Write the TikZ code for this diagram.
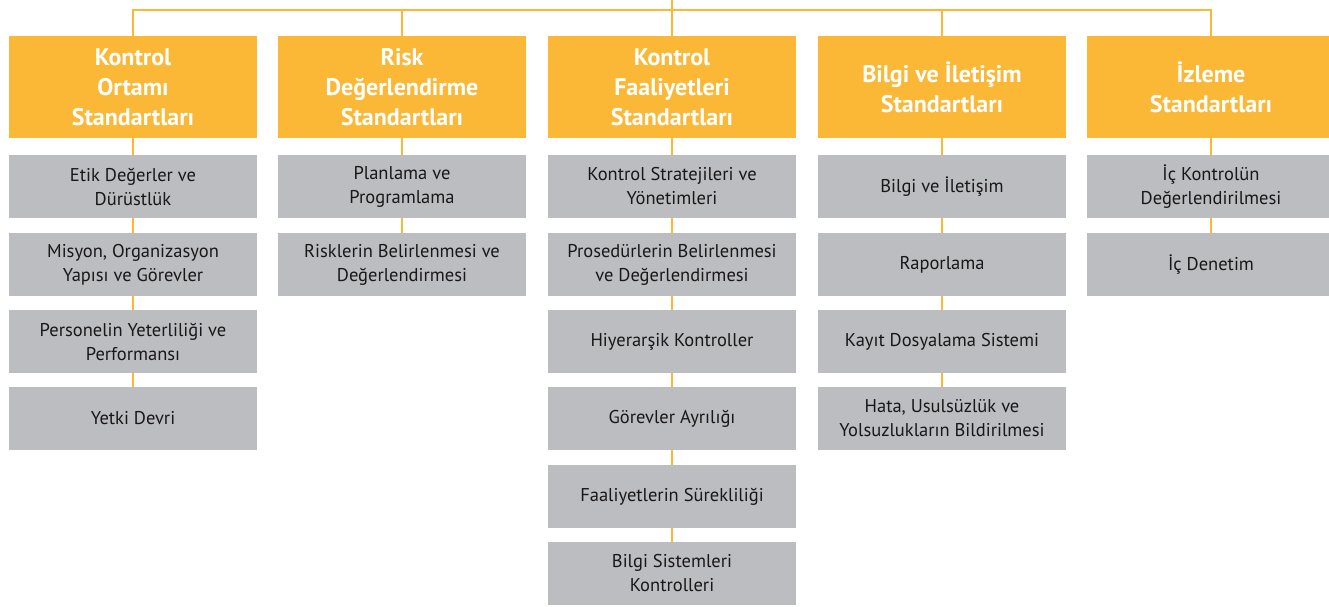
\documentclass[tikz,border=0pt]{standalone}
\usepackage{fontspec}
\setmainfont{PT Sans}
\definecolor{headyellow}{HTML}{FBB836}
\definecolor{boxgray}{HTML}{BCBDC0}
\definecolor{textdark}{HTML}{1A1718}
\tikzset{
  header/.style={fill=headyellow, minimum width=248pt, minimum height=102pt,
    inner sep=0pt, align=center, text=white,
    font=\fontsize{24}{30}\selectfont\bfseries},
  item/.style={fill=boxgray, minimum width=248pt, minimum height=63pt,
    inner sep=0pt, align=center, text=textdark,
    font=\fontsize{18.5}{24}\selectfont},
  link/.style={draw=headyellow, line width=2pt}
}
\begin{document}
\begin{tikzpicture}[x=1pt,y=-1pt]
\useasboundingbox (0,0) rectangle (1329,606);
% column centres
\def\ca{133}\def\cb{402}\def\cc{672}\def\cd{942}\def\ce{1211}
% headers
\node[header] (h1) at (\ca,87) {Kontrol\\Ortamı\\Standartları};
\node[header] (h2) at (\cb,87) {Risk\\Değerlendirme\\Standartları};
\node[header] (h3) at (\cc,87) {Kontrol\\Faaliyetleri\\Standartları};
\node[header] (h4) at (\cd,87) {Bilgi ve İletişim\\Standartları};
\node[header] (h5) at (\ce,87) {İzleme\\Standartları};
% column 1
\node[item] (a1) at (\ca,186.5) {Etik Değerler ve\\Dürüstlük};
\node[item] (a2) at (\ca,264.5) {Misyon, Organizasyon\\Yapısı ve Görevler};
\node[item] (a3) at (\ca,341.5) {Personelin Yeterliliği ve\\Performansı};
\node[item] (a4) at (\ca,418.5) {Yetki Devri};
% column 2
\node[item] (b1) at (\cb,186.5) {Planlama ve\\Programlama};
\node[item] (b2) at (\cb,264.5) {Risklerin Belirlenmesi ve\\Değerlendirmesi};
% column 3
\node[item] (c1) at (\cc,186.5) {Kontrol Stratejileri ve\\Yönetimleri};
\node[item] (c2) at (\cc,264.5) {Prosedürlerin Belirlenmesi\\ve Değerlendirmesi};
\node[item] (c3) at (\cc,341.5) {Hiyerarşik Kontroller};
\node[item] (c4) at (\cc,418.5) {Görevler Ayrılığı};
\node[item] (c5) at (\cc,496.5) {Faaliyetlerin Sürekliliği};
\node[item] (c6) at (\cc,573.5) {Bilgi Sistemleri\\Kontrolleri};
% column 4
\node[item] (d1) at (\cd,186.5) {Bilgi ve İletişim};
\node[item] (d2) at (\cd,264.5) {Raporlama};
\node[item] (d3) at (\cd,341.5) {Kayıt Dosyalama Sistemi};
\node[item] (d4) at (\cd,418.5) {Hata, Usulsüzlük ve\\Yolsuzlukların Bildirilmesi};
% column 5
\node[item] (e1) at (\ce,186.5) {İç Kontrolün\\Değerlendirilmesi};
\node[item] (e2) at (\ce,264.5) {İç Denetim};
% top bus
\coordinate (top) at (\cc,0);
\coordinate (bus) at (\cc,9.5);
\draw[link] (top) -- (bus);
\draw[link] (h1.north) -- (h1.north |- bus) -- (h5.north |- bus) -- (h5.north);
\foreach \h in {h2,h3,h4} \draw[link] (\h.north) -- (\h.north |- bus);
% column chains
\foreach \u/\v in {h1/a1,a1/a2,a2/a3,a3/a4,h2/b1,b1/b2,
  h3/c1,c1/c2,c2/c3,c3/c4,c4/c5,c5/c6,
  h4/d1,d1/d2,d2/d3,d3/d4,h5/e1,e1/e2}
  \draw[link] (\u.south) -- (\v.north);
\end{tikzpicture}
\end{document}
